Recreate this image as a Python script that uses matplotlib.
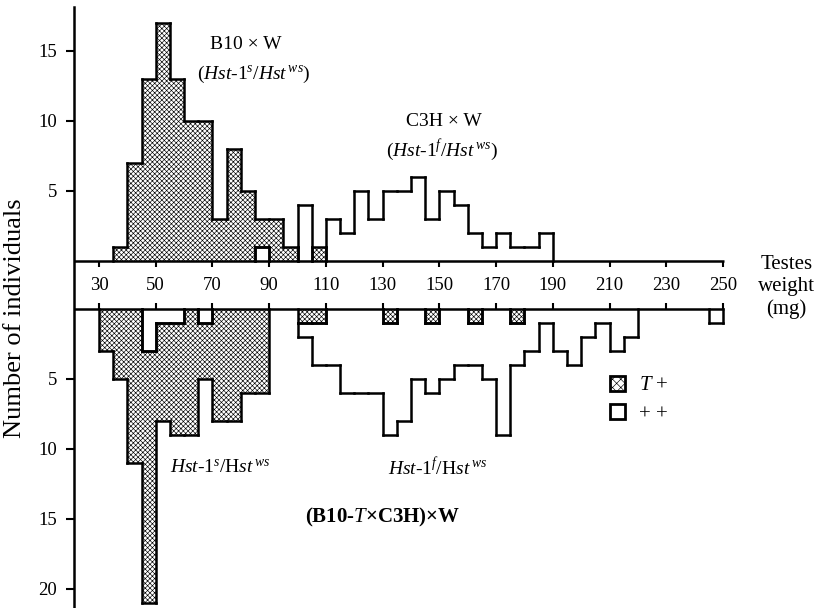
import matplotlib.pyplot as plt
import numpy as np
from matplotlib.patches import Patch

plt.rcParams["font.family"] = ["Liberation Serif", "DejaVu Serif"]
plt.rcParams["mathtext.fontset"] = "custom"
plt.rcParams["mathtext.rm"] = "Liberation Serif"
plt.rcParams["mathtext.it"] = "Liberation Serif:italic"
plt.rcParams["mathtext.bf"] = "Liberation Serif:bold"
plt.rcParams["hatch.linewidth"] = 0.45
plt.rcParams["hatch.color"] = "black"

BIN = 5            # mg per class
GAP = 3.43         # distance between the two baselines (count units)
OPEN_FIRST = 100   # below this weight the open class sits next to the axis
STIPPLE = "x" * 7

# upper half: B10 x W (stippled) and C3H x W (open)
b10_start = [35, 40, 45, 50, 55, 60, 65, 70, 75, 80, 85, 90, 95, 105]
b10_n = [1, 7, 13, 17, 13, 10, 10, 3, 8, 5, 2, 3, 1, 1]
c3h_start = [85, 100, 110, 115, 120, 125, 130, 135, 140, 145, 150, 155,
             160, 165, 170, 175, 180, 185]
c3h_n = [1, 4, 3, 2, 5, 3, 5, 5, 6, 3, 5, 4, 2, 1, 2, 1, 1, 2]

# lower half: (B10-T x C3H) x W, T+ (stippled) and ++ (open)
tplus_start = [30, 35, 40, 45, 50, 55, 60, 65, 70, 75, 80, 85,
               100, 105, 130, 145, 160, 175]
tplus_n = [3, 5, 11, 18, 7, 8, 9, 4, 8, 8, 6, 6, 1, 1, 1, 1, 1, 1]
pp_start = [45, 50, 55, 65, 100, 105, 110, 115, 120, 125, 130, 135, 140,
            145, 150, 155, 160, 165, 170, 175, 180, 185, 190, 195, 200,
            205, 210, 215, 245]
pp_n = [3, 1, 1, 1, 1, 3, 4, 6, 6, 6, 8, 8, 5, 5, 5, 4, 3, 5, 9, 3, 3,
        1, 3, 4, 2, 1, 3, 2, 1]

x_ticks = list(range(30, 251, 20))
upper_yticks = [5, 10, 15]
lower_yticks = [5, 10, 15, 20]


def stacks(s_start, s_n, o_start, o_n):
    s = dict(zip(s_start, s_n))
    o = dict(zip(o_start, o_n))
    st, op = {}, {}
    for b in sorted(set(s) | set(o)):
        ns, no = s.get(b, 0), o.get(b, 0)
        if b < OPEN_FIRST:
            if no:
                op[b] = (0, no)
            if ns:
                st[b] = (no, no + ns)
        else:
            if ns:
                st[b] = (0, ns)
            if no:
                op[b] = (ns, ns + no)
    return st, op


def sym_diff(a, b):
    if a is None and b is None:
        return []
    if a is None:
        return [b]
    if b is None:
        return [a]
    lo, hi = max(a[0], b[0]), min(a[1], b[1])
    if lo >= hi:
        return [a, b]
    segs = [(min(a[0], b[0]), lo), (hi, max(a[1], b[1]))]
    return [sg for sg in segs if sg[1] > sg[0]]


def draw_half(ax, st, op, to_y):
    line_kw = dict(color="black", linewidth=1.8, capstyle="projecting", zorder=3)
    for cells, hatch in ((st, STIPPLE), (op, None)):
        xs = list(cells)
        lo = np.array([cells[b][0] for b in xs], dtype=float)
        hi = np.array([cells[b][1] for b in xs], dtype=float)
        y0, y1 = to_y(lo), to_y(hi)
        ax.bar(xs, y1 - y0, bottom=y0, width=BIN, align="edge", color="white",
               edgecolor="black", linewidth=0, hatch=hatch, zorder=2)
        hy, hx0, hx1 = [], [], []
        for b in xs:
            for v in cells[b]:
                if v > 0:
                    hy.append(to_y(v))
                    hx0.append(b)
                    hx1.append(b + BIN)
        ax.hlines(hy, hx0, hx1, **line_kw)
        vx, vy0, vy1 = [], [], []
        for e in sorted(set(xs) | {b + BIN for b in xs}):
            for a, c in sym_diff(cells.get(e - BIN), cells.get(e)):
                vx.append(e)
                vy0.append(to_y(a))
                vy1.append(to_y(c))
        ax.vlines(vx, vy0, vy1, **line_kw)


fig = plt.figure(figsize=(8.14, 6.08), dpi=100)
ax = fig.add_axes([74 / 814, 0, 740 / 814, 601 / 608])
ax.set_xlim(21.2, 282.1)
ax.set_ylim(-24.79, 18.14)


def up(v):
    return v


def down(v):
    return -(GAP + v)


draw_half(ax, *stacks(b10_start, b10_n, c3h_start, c3h_n), up)
draw_half(ax, *stacks(tplus_start, tplus_n, pp_start, pp_n), down)

# the two baselines carrying the weight scale
x0 = ax.get_xlim()[0]
ax.hlines([0, -GAP], x0, 250.3, color="black", linewidth=1.8, zorder=4)
ax.vlines(x_ticks, 0, -0.4, color="black", linewidth=1.5, zorder=4)
ax.vlines(x_ticks, -GAP, -GAP + 0.4, color="black", linewidth=1.5, zorder=4)
for t in x_ticks:
    ax.text(t, -GAP / 2 - 0.03, str(t), ha="center", va="center", fontsize=13.5)
ax.text(272.4, -1.86, "Testes\nweight\n(mg)", ha="center", va="center",
        fontsize=15, linespacing=1.2)

ax.set_xticks([])
ax.set_yticks(upper_yticks + [down(v) for v in lower_yticks])
ax.set_yticklabels([str(v) for v in upper_yticks + lower_yticks])
ax.tick_params(axis="y", direction="out", length=6, width=1.5, labelsize=13.5,
               pad=6)
for side in ("top", "right", "bottom"):
    ax.spines[side].set_visible(False)
ax.spines["left"].set_linewidth(1.8)

fig.text(15 / 814, 1 - 318 / 608, "Number of individuals", rotation=90,
         ha="center", va="center", fontsize=19)

# group labels
ax.text(81.8, 15.43, "B10 × W", ha="center", va="center", fontsize=14)
ax.text(84.7, 13.3, r"($Hst$-$\mathit{1}^{s}$/$Hst^{\,ws}$)",
        ha="center", va="center", fontsize=14)
ax.text(151.5, 9.93, "C3H × W", ha="center", va="center", fontsize=14)
ax.text(151, 7.93, r"($Hst$-$\mathit{1}^{f}$/$Hst^{\,ws}$)",
        ha="center", va="center", fontsize=14)
ax.text(72.7, -14.79, r"$Hst$-1$^{s}$/H$st^{\,ws}$", ha="center", va="center",
        fontsize=14)
ax.text(149.2, -14.79, r"$Hst$-1$^{f}$/H$st^{\,ws}$", ha="center", va="center",
        fontsize=14)
ax.text(130.2, -18.29, r"(B10-$T$×C3H)×W", ha="center", va="center",
        fontsize=15, fontweight="bold")

handles = [Patch(facecolor="white", edgecolor="black", hatch="xxxx", linewidth=2),
           Patch(facecolor="white", edgecolor="black", linewidth=2)]
ax.legend(handles, [r"$T$ +", "+ +"], loc="upper left",
          bbox_to_anchor=(591 / 814, 1 - 357 / 608), bbox_transform=fig.transFigure,
          frameon=False, fontsize=15, handlelength=0.72, handleheight=0.72,
          handletextpad=0.67, labelspacing=0.43, borderpad=0.4)

fig.savefig("out.png", dpi=100)
